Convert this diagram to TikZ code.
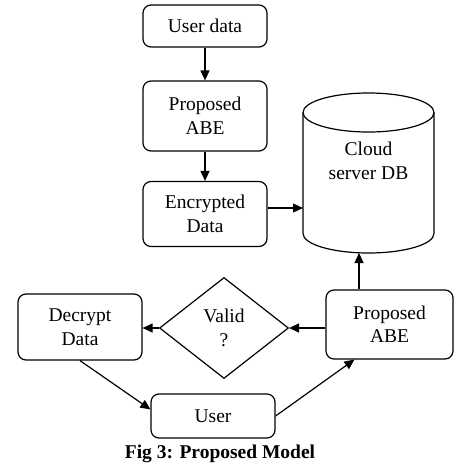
\documentclass[tikz,border=0pt]{standalone}
\usepackage{fontspec}
\setmainfont{Liberation Serif}
\usetikzlibrary{shapes.geometric,arrows.meta}

\begin{document}
\begin{tikzpicture}[x=1pt, y=-1pt,
    font=\fontsize{19.5}{23.5}\selectfont,
    box/.style={draw, line width=1.2pt, rounded corners=8pt, align=center, inner sep=0pt, minimum width=124pt},
    flow/.style={line width=1.2pt, -{Triangle[length=10pt,width=9pt]}}]
            \useasboundingbox (0,0) rectangle (453,471);

            \node[box, minimum height=42pt] (userdata) at (205,26) {User data};
            \node[box, minimum height=70pt] (abetop) at (205,116) {Proposed\\ABE};
            \node[box, minimum height=65pt] (encdata) at (205,214) {Encrypted\\Data};

            \draw[line width=1.2pt] (368.5,112.5) ellipse [x radius=65.5pt, y radius=19.5pt];
            \draw[line width=1.2pt] (303,112.5) -- (303,233.5) arc [start angle=180, end angle=360, x radius=65.5pt, y radius=19.5pt] -- (434,112.5);
            \node[align=center] (clouddb) at (368.5,161) {Cloud\\server DB};
            \coordinate (dbleft) at (303,208);
            \coordinate (dbbottom) at (359,253);

            \node[box, minimum width=127pt, minimum height=69pt] (abebot) at (389.5,324.5) {Proposed\\ABE};
            \node[draw, diamond, line width=1.2pt, inner sep=0pt, aspect=1.28, minimum width=129pt, minimum height=101pt, align=center] (valid) at (224,328) {Valid\\?};
            \node[box, minimum height=66pt] (decrypt) at (80,327) {Decrypt\\Data};
            \node[box, minimum height=44pt] (user) at (213,416) {User};

            \node[font=\fontsize{19.5}{23.5}\selectfont\bfseries] (caption) at (220,454) {Fig 3: Proposed Model};

            \draw[flow] (userdata) -- (abetop);
            \draw[flow] (abetop) -- (encdata);
            \draw[flow] (encdata.east |- dbleft) -- (dbleft);
            \draw[flow] (abebot.north -| dbbottom) -- (dbbottom);
            \draw[flow] (abebot.west |- valid) -- (valid.east);
            \draw[flow] (valid.west) -- (valid.west -| decrypt.east);
            \draw[flow] (decrypt.south) -- (user.174);
            \draw[flow] (user.east) -- (abebot.225);
        \end{tikzpicture}
\end{document}
